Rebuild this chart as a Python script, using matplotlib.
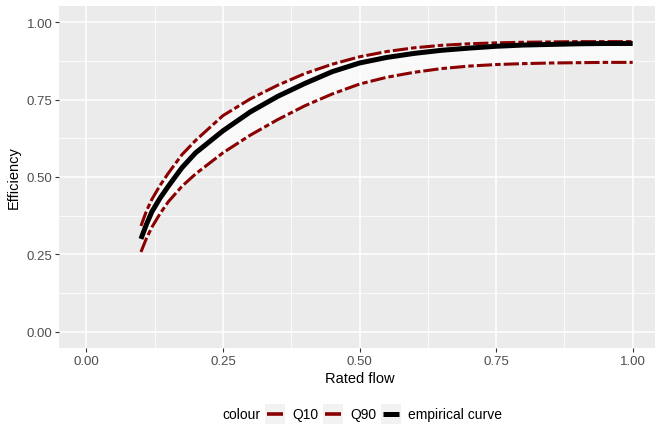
import matplotlib
matplotlib.use('Agg')
import matplotlib.pyplot as plt
from matplotlib.lines import Line2D
from matplotlib.patches import Rectangle

plt.rcParams['font.family'] = ['Liberation Sans', 'DejaVu Sans']

# values
rated_flow = [0.10, 0.11, 0.12, 0.135, 0.15, 0.175, 0.20, 0.25, 0.30, 0.35, 0.40, 0.45, 0.50,
              0.55, 0.60, 0.65, 0.70, 0.75, 0.80, 0.85, 0.90, 0.95, 1.00]
empirical = [0.300, 0.347, 0.388, 0.432, 0.470, 0.530, 0.578, 0.649, 0.710, 0.760, 0.802, 0.840, 0.868,
             0.886, 0.899, 0.909, 0.916, 0.922, 0.926, 0.928, 0.930, 0.931, 0.931]
q90 = [0.342, 0.390, 0.428, 0.473, 0.512, 0.572, 0.618, 0.698, 0.752, 0.796, 0.834, 0.864, 0.888,
       0.905, 0.917, 0.925, 0.930, 0.933, 0.935, 0.936, 0.937, 0.937, 0.937]
q10 = [0.258, 0.302, 0.338, 0.382, 0.420, 0.470, 0.510, 0.578, 0.635, 0.685, 0.730, 0.768, 0.800,
       0.822, 0.838, 0.850, 0.858, 0.863, 0.866, 0.868, 0.869, 0.870, 0.870]

major_ticks = [0.0, 0.25, 0.5, 0.75, 1.0]
minor_ticks = [0.125, 0.375, 0.625, 0.875]
tick_labels = ['0.00', '0.25', '0.50', '0.75', '1.00']

legend_labels = ['Q10', 'Q90', 'empirical curve']
legend_colors = ['#8B0000', '#8B0000', 'black']

red = '#8B0000'
twodash = (0, (5.0, 1.0, 1.8, 1.0))

fig = plt.figure(figsize=(6.55, 4.27), dpi=100)
ax = fig.add_axes([59/655, 1 - 349/427, 601/655, 342/427])
ax.set_facecolor('#EBEBEB')
for s in ax.spines.values():
    s.set_visible(False)

ax.fill_between(rated_flow, q10, q90, color='white', alpha=0.7, linewidth=0, zorder=2)
ax.plot(rated_flow, q10, color=red, lw=2.2, linestyle=twodash, zorder=3)
ax.plot(rated_flow, q90, color=red, lw=2.2, linestyle=twodash, zorder=3)
ax.plot(rated_flow, empirical, color='black', lw=3.6, solid_capstyle='butt',
        solid_joinstyle='round', zorder=4)

ax.set_xlim(-0.05, 1.05)
ax.set_ylim(-0.052, 1.052)
ax.set_xticks(major_ticks)
ax.set_xticklabels(tick_labels)
ax.set_yticks(major_ticks)
ax.set_yticklabels(tick_labels)
ax.set_xticks(minor_ticks, minor=True)
ax.set_yticks(minor_ticks, minor=True)
ax.grid(True, which='major', color='white', lw=1.1, zorder=1)
ax.grid(True, which='minor', color='white', lw=0.55, zorder=1)
ax.set_axisbelow(True)
ax.tick_params(which='major', length=2.8, width=0.8, color='#333333',
               labelsize=9.5, labelcolor='#4D4D4D', pad=2)
ax.tick_params(which='minor', length=0)

ax.set_xlabel('Rated flow', fontsize=10.5, labelpad=3)
ax.set_ylabel('Efficiency', fontsize=10.5, labelpad=4)

# legend at the bottom, ggplot style (title on the left, grey keys)
W, H = 655, 427
yc = 415
fig.text(222/W, 1 - yc/H, 'colour', fontsize=10, va='center', ha='left')
key_x = [265, 323, 381]
for kx, lab, col in zip(key_x, legend_labels, legend_colors):
    fig.add_artist(Rectangle((kx/W, 1 - (yc + 10)/H), 20/W, 20/H,
                             transform=fig.transFigure, facecolor='#F2F2F2', edgecolor='none'))
    lw = 3.6 if col == 'black' else 2.6
    fig.add_artist(Line2D([(kx + 2)/W, (kx + 18)/W], [1 - yc/H, 1 - yc/H],
                          transform=fig.transFigure, color=col, lw=lw, solid_capstyle='butt'))
    fig.text((kx + 27)/W, 1 - yc/H, lab, fontsize=10, va='center', ha='left')

fig.savefig('out.png', dpi=100)
